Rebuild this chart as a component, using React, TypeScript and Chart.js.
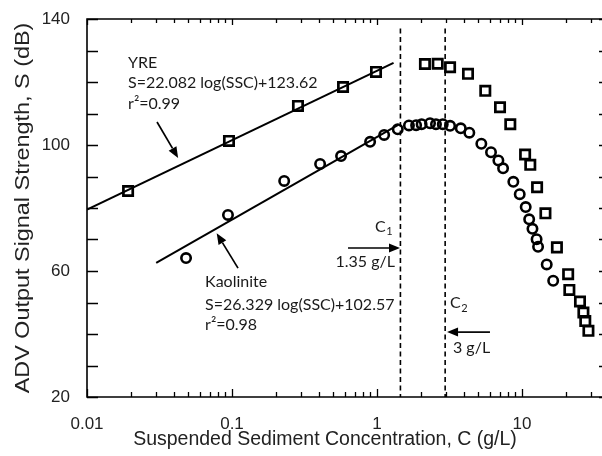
import React, { useEffect, useRef } from "react";
import { Chart, registerables } from "chart.js";

Chart.register(...registerables);

// ---- data ----
const yreX = [0.0192, 0.0953, 0.285, 0.583, 0.984, 2.14, 2.62, 3.19, 4.24, 5.58, 7.05, 8.3, 10.5, 11.4, 12.7, 14.5, 17.4, 20.8, 21.2, 25.1, 26.5, 27.3, 28.7];
const yreY = [85.4, 101.3, 112.4, 118.4, 123.2, 125.7, 125.8, 124.7, 122.6, 117.2, 112.0, 106.6, 97.0, 93.7, 86.6, 78.3, 67.5, 59.0, 54.0, 50.3, 46.8, 44.1, 41.0];

const kaoX = [0.0482, 0.0938, 0.229, 0.405, 0.565, 0.896, 1.12, 1.39, 1.66, 1.86, 2.03, 2.32, 2.55, 2.84, 3.19, 3.78, 4.33, 5.24, 6.11, 6.87, 7.4, 8.71, 9.64, 10.6, 11.2, 11.8, 12.6, 12.9, 14.8, 16.4];
const kaoY = [64.1, 77.8, 88.6, 94.0, 96.5, 101.0, 103.2, 105.0, 106.2, 106.3, 106.6, 106.9, 106.6, 106.6, 106.1, 105.3, 103.9, 100.4, 97.7, 95.1, 92.6, 88.3, 84.4, 80.3, 76.4, 73.4, 70.1, 67.7, 62.1, 56.9];

const yreFitX = [0.01, 1.3];
const yreFitY = [79.5, 126.1];
const kaoFitX = [0.03, 1.4];
const kaoFitY = [62.6, 106.4];

const criticalX = [1.45, 2.95];
const criticalSpanY = [137, 20];

const xTickValues = [0.01, 0.1, 1, 10];
const yTickValues = [20, 60, 100, 140];
const xRange = [0.01, 35.6];
const yRange = [20, 140];

const xTitle = "Suspended Sediment Concentration, C (g/L)";
const yTitle = "ADV Output Signal Strength, S (dB)";

type Label = { text: string; x: number; y: number; align?: CanvasTextAlign; sub?: string };
const textLabels: Label[] = [
  { text: "YRE", x: 0.0192, y: 126.0 },
  { text: "S=22.082 log(SSC)+123.62", x: 0.0192, y: 119.7 },
  { text: "r\u00B2=0.99", x: 0.0192, y: 113.0 },
  { text: "Kaolinite", x: 0.0652, y: 56.5 },
  { text: "S=26.329 log(SSC)+102.57", x: 0.0652, y: 49.2 },
  { text: "r\u00B2=0.98", x: 0.0652, y: 42.9 },
  { text: "C", sub: "1", x: 0.969, y: 74.0 },
  { text: "1.35 g/L", x: 1.33, y: 62.9, align: "right" },
  { text: "C", sub: "2", x: 3.19, y: 49.8 },
  { text: "3 g/L", x: 3.34, y: 35.6 },
];

const arrows = [
  { from: [0.0304, 107.3], to: [0.0425, 95.9] },
  { from: [0.11, 60.9], to: [0.0784, 72.0] },
  { from: [0.631, 67.3], to: [1.44, 67.3] },
  { from: [6.01, 40.6], to: [3.04, 40.6] },
];

const pts = (xs: number[], ys: number[]) => xs.map((x, i) => ({ x, y: ys[i] }));

const AXIS_FONT = "'Liberation Sans', Arial, sans-serif";
const NOTE_FONT = "Lato, 'Open Sans', sans-serif";

const decorPlugin = {
  id: "decor",
  afterDraw(chart: any) {
    const { ctx, chartArea, scales } = chart;
    const { left, right, top, bottom } = chartArea;
    const xs = scales.x;
    const ys = scales.y;
    ctx.save();
    ctx.strokeStyle = "#000";
    ctx.lineWidth = 1.6;
    ctx.beginPath();
    ctx.moveTo(right + 2, top);
    ctx.lineTo(left, top);
    ctx.lineTo(left, bottom);
    ctx.lineTo(right + 2, bottom);
    ctx.stroke();
    ctx.lineWidth = 1.3;
    ctx.beginPath();
    for (const d of xTickValues) {
      for (let k = 1; k <= 9; k++) {
        const v = d * k;
        if (v < xRange[0] || v > xRange[1]) continue;
        const px = Math.round(xs.getPixelForValue(v)) + 0.5;
        const len = k === 1 ? 8 : 5;
        ctx.moveTo(px, bottom);
        ctx.lineTo(px, bottom - len);
        ctx.moveTo(px, top);
        ctx.lineTo(px, top + (k === 1 ? 6 : 4));
      }
    }
    for (let v = yRange[0]; v <= yRange[1]; v += 10) {
      const py = Math.round(ys.getPixelForValue(v)) + 0.5;
      ctx.moveTo(left, py);
      ctx.lineTo(left + 11, py);
      ctx.moveTo(right + 2, py);
      ctx.lineTo(right - 3, py);
    }
    ctx.stroke();

    ctx.fillStyle = "#1a1a1a";
    ctx.textBaseline = "middle";
    for (const l of textLabels) {
      const px = xs.getPixelForValue(l.x);
      const py = ys.getPixelForValue(l.y);
      ctx.font = `16px ${NOTE_FONT}`;
      ctx.textAlign = l.align || "left";
      ctx.fillText(l.text, px, py);
      if (l.sub) {
        const w = ctx.measureText(l.text).width;
        ctx.font = `11px ${NOTE_FONT}`;
        ctx.textAlign = "left";
        ctx.fillText(l.sub, px + w + 0.5, py + 5);
      }
    }
    ctx.strokeStyle = "#000";
    ctx.fillStyle = "#000";
    ctx.lineWidth = 1.7;
    for (const a of arrows) {
      const x1 = xs.getPixelForValue(a.from[0]);
      const y1 = ys.getPixelForValue(a.from[1]);
      const x2 = xs.getPixelForValue(a.to[0]);
      const y2 = ys.getPixelForValue(a.to[1]);
      const ang = Math.atan2(y2 - y1, x2 - x1);
      const hl = 11, hw = 4.5;
      const bx = x2 - hl * Math.cos(ang);
      const by = y2 - hl * Math.sin(ang);
      ctx.beginPath();
      ctx.moveTo(x1, y1);
      ctx.lineTo(bx, by);
      ctx.stroke();
      ctx.beginPath();
      ctx.moveTo(x2, y2);
      ctx.lineTo(bx + hw * Math.sin(ang), by - hw * Math.cos(ang));
      ctx.lineTo(bx - hw * Math.sin(ang), by + hw * Math.cos(ang));
      ctx.closePath();
      ctx.fill();
    }

    // axis titles
    ctx.fillStyle = "#222";
    ctx.textAlign = "center";
    ctx.textBaseline = "middle";
    ctx.font = `19.5px ${AXIS_FONT}`;
    ctx.fillText(xTitle, 325, 440);
    ctx.translate(24, (top + bottom) / 2);
    ctx.rotate(-Math.PI / 2);
    ctx.scale(1.2, 1);
    ctx.fillText(yTitle, 0, 0);
    ctx.restore();
  },
};

const zeroPad = (s: any) => {
  s.paddingTop = 0;
  s.paddingBottom = 0;
  s.paddingLeft = 0;
  s.paddingRight = 0;
};

export default function App() {
  const ref = useRef<HTMLCanvasElement | null>(null);
  useEffect(() => {
    if (!ref.current) return;
    const black = "#000";
    const chart = new Chart(ref.current, {
      type: "scatter",
      data: {
        datasets: [
          {
            label: "YRE",
            data: pts(yreX, yreY),
            pointStyle: "rect",
            pointRadius: 6.6,
            pointBorderWidth: 2.7,
            borderColor: black,
            backgroundColor: "rgba(0,0,0,0)",
            showLine: false,
          },
          {
            label: "Kaolinite",
            data: pts(kaoX, kaoY),
            pointStyle: "circle",
            pointRadius: 4.7,
            pointBorderWidth: 2.6,
            borderColor: black,
            backgroundColor: "rgba(0,0,0,0)",
            showLine: false,
          },
          {
            label: "YRE fit",
            data: pts(yreFitX, yreFitY),
            showLine: true,
            pointRadius: 0,
            borderWidth: 2,
            borderColor: black,
          },
          {
            label: "Kaolinite fit",
            data: pts(kaoFitX, kaoFitY),
            showLine: true,
            pointRadius: 0,
            borderWidth: 2,
            borderColor: black,
          },
          ...criticalX.map((c, i) => ({
            label: `C${i + 1}`,
            data: criticalSpanY.map((y) => ({ x: c, y })),
            showLine: true,
            pointRadius: 0,
            borderWidth: 1.6,
            borderDash: [5, 3.5],
            borderColor: black,
          })),
        ],
      },
      options: {
        animation: false,
        responsive: false,
        layout: { autoPadding: false, padding: { top: 19, right: 0, left: 0, bottom: 0 } },
        plugins: { legend: { display: false }, tooltip: { enabled: false } },
        scales: {
          x: {
            type: "logarithmic",
            bounds: "data",
            min: xRange[0],
            max: xRange[1],
            grid: { display: false, drawTicks: false },
            border: { display: false },
            afterBuildTicks: (s: any) => {
              s.ticks = xTickValues.map((value) => ({ value }));
            },
            afterFit: (s: any) => {
              s.height = 59;
              zeroPad(s);
            },
            ticks: {
              autoSkip: false,
              maxRotation: 0,
              padding: 17,
              color: "#222",
              font: { family: AXIS_FONT, size: 17 },
              callback: (v: any) => String(v),
            },
          },
          y: {
            type: "linear",
            bounds: "data",
            min: yRange[0],
            max: yRange[1],
            grid: { display: false, drawTicks: false },
            border: { display: false },
            afterBuildTicks: (s: any) => {
              s.ticks = yTickValues.map((value) => ({ value }));
            },
            afterFit: (s: any) => {
              s.width = 87;
              zeroPad(s);
            },
            ticks: {
              padding: 17,
              color: "#222",
              font: { family: AXIS_FONT, size: 17 },
            },
          },
        },
      },
      plugins: [decorPlugin],
    });
    return () => chart.destroy();
  }, []);
  return (
    <div style={{ position: "fixed", left: 0, top: 0, width: 602, height: 456, background: "#fff" }}>
      <canvas ref={ref} width={602} height={456} style={{ width: 602, height: 456, display: "block" }} />
    </div>
  );
}
